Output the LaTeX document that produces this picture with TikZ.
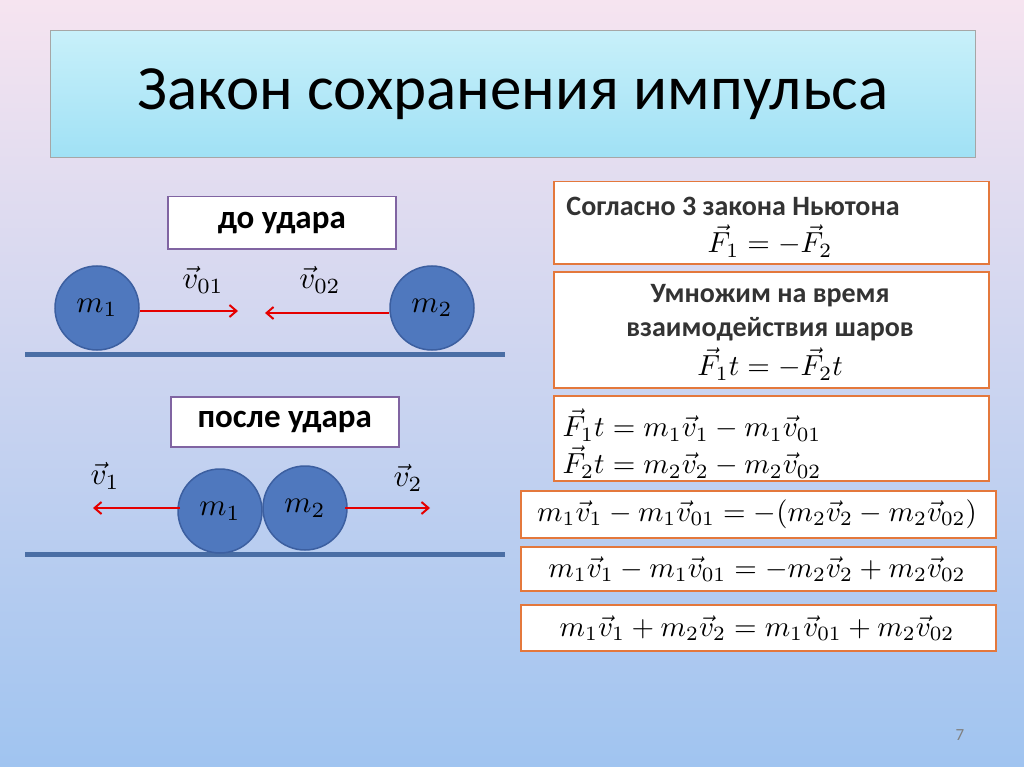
\documentclass[tikz,border=0pt]{standalone}
\usepackage{fontspec}
\setmainfont{Carlito}
\usepackage{amsmath}
\usetikzlibrary{arrows.meta}
\begin{document}
\begin{tikzpicture}[x=1pt,y=-1pt,
  ball/.style={circle,draw={rgb,255:red,60;green,95;blue,160},line width=1.5pt,fill={rgb,255:red,79;green,120;blue,190},minimum size=84pt,inner sep=0pt},
  lbox/.style={draw={rgb,255:red,128;green,100;blue,162},line width=1.5pt,fill=white,font=\bfseries\fontsize{33}{38}\selectfont,anchor=north west},
  obox/.style={draw={rgb,255:red,228;green,120;blue,60},line width=1.5pt,fill=white,anchor=north west,inner sep=0pt},
  ground/.style={line width=5pt,draw={rgb,255:red,74;green,110;blue,165}},
  varr/.style={red!90!black,line width=2pt,-{Straight Barb[length=7pt,width=12pt]}},
  lab/.style={scale=3.1,inner sep=0pt},
  bt/.style={font=\bfseries\fontsize{28}{32}\selectfont,text=black!80},
  fm/.style={scale=2.9,inner sep=0pt}]
\useasboundingbox (0,0) rectangle (1024,767);
\shade[top color={rgb,255:red,246;green,228;blue,240},bottom color={rgb,255:red,160;green,196;blue,240}] (0,0) rectangle (1024,767);
\node[draw=black!35,line width=1pt,top color={rgb,255:red,200;green,240;blue,250},bottom color={rgb,255:red,160;green,225;blue,245},minimum width=925pt,minimum height=127pt,anchor=north west,inner sep=0pt] (title) at (50,30) {};
\node[font=\fontsize{63}{70}\selectfont] at (title.center) {Закон сохранения импульса};
% before
\node[lbox,minimum width=228pt,minimum height=52pt] (b1) at (167,196) {до удара};
\draw[ground] (25,354) -- (505,354);
\node[ball] (m1) at (97,308) {};
\node[ball] (m2) at (432,308) {};
\node[lab] at (m1) {$m_1$};
\node[lab] at (m2) {$m_2$};
\coordinate (a1) at (238,311); \coordinate (a2) at (265,313);
\draw[varr] (m1.east|-a1) -- (a1);
\draw[varr] (m2.west|-a2) -- (a2);
\node[lab] (v01) at (203,280) {$\vec v_{01}$};
\node[lab] (v02) at (320,280) {$\vec v_{02}$};
% after
\node[lbox,minimum width=228pt,minimum height=50pt] (b2) at (170,396) {после удара};
\draw[ground] (25,554) -- (505,554);
\node[ball] (n1) at (220,511) {};
\node[ball] (n2) at (305,508) {};
\node[lab] at (n1) {$m_1$};
\node[lab] at (n2) {$m_2$};
\coordinate (c1) at (93,508); \coordinate (c2) at (430,508);
\draw[varr] (180,508) -- (c1);
\draw[varr] (345,508) -- (c2);
\node[lab] (v1) at (105,476) {$\vec v_1$};
\node[lab] (v2) at (408,478) {$\vec v_2$};
% right
\node[obox,minimum width=435pt,minimum height=82pt] (r1) at (553,181) {};
\node[bt] at (733,206) {Согласно 3 закона Ньютона};
\node[fm] at (770,241) {$\vec F_1=-\vec F_2$};
\node[obox,minimum width=435pt,minimum height=116pt] (r2) at (553,271) {};
\node[bt] at (770,296) {Умножим на время};
\node[bt] at (770,329) {взаимодействия шаров};
\node[fm] at (770,364) {$\vec F_1t=-\vec F_2t$};
\node[obox,minimum width=435pt,minimum height=85pt] (r3) at (553,395) {};
\node[fm,anchor=west] at (562,425) {$\vec F_1t=m_1\vec v_1-m_1\vec v_{01}$};
\node[fm,anchor=west] at (562,462) {$\vec F_2t=m_2\vec v_2-m_2\vec v_{02}$};
\node[obox,minimum width=475pt,minimum height=47pt] (r4) at (520,490) {};
\node[fm] at (757,514) {$m_1\vec v_1-m_1\vec v_{01}=-(m_2\vec v_2-m_2\vec v_{02})$};
\node[obox,minimum width=475pt,minimum height=44pt] (r5) at (520,546) {};
\node[fm] at (757,569) {$m_1\vec v_1-m_1\vec v_{01}=-m_2\vec v_2+m_2\vec v_{02}$};
\node[obox,minimum width=475pt,minimum height=46pt] (r6) at (520,604) {};
\node[fm] at (757,628) {$m_1\vec v_1+m_2\vec v_2=m_1\vec v_{01}+m_2\vec v_{02}$};
\node[text=black!50,font=\fontsize{17}{20}\selectfont] (pg) at (960,735) {7};
\end{tikzpicture}
\end{document}
